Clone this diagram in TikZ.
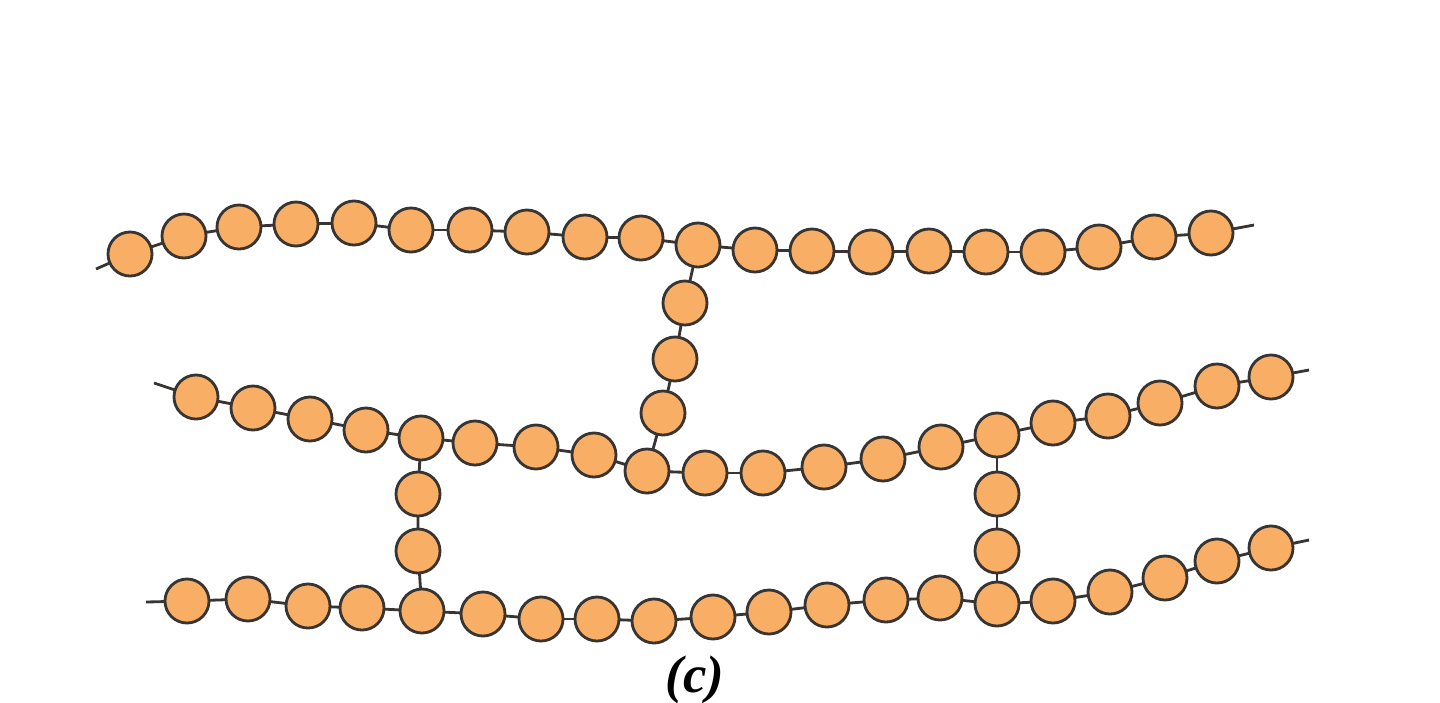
\documentclass[tikz,border=0pt]{standalone}
\usepackage{fontspec}
\setmainfont{Liberation Serif}
\usepackage{tikz}
\usetikzlibrary{backgrounds}
\definecolor{beadorange}{RGB}{248, 174, 100}
\definecolor{beadedge}{RGB}{55, 52, 50}

\begin{document}
\begin{tikzpicture}[
    x=0.01cm, y=-0.01cm,
    bead/.style={circle, draw=beadedge, line width=0.8pt, fill=beadorange,
                 minimum size=0.44cm, inner sep=0pt},
    link/.style={draw=beadedge, line width=0.8pt}
]
    \useasboundingbox (0,0) rectangle (1440,702);

    % top chain
    \foreach \x/\y [count=\i] in {130/254, 184/236, 239/227, 296/224, 354/223,
        411/230, 470/230, 527/232, 585/237, 641/238, 698/245, 755/250, 812/251,
        871/252, 929/251, 986/252, 1043/252, 1099/247, 1154/237, 1211/233}
        \node[bead] (t\i) at (\x,\y) {};

    % middle chain
    \foreach \x/\y [count=\i] in {196/397, 253/408, 310/419, 366/430, 421/438,
        475/443, 536/447, 594/455, 647/471, 705/473, 763/473, 824/467, 883/459,
        941/447, 997/435, 1053/423, 1108/416, 1160/403, 1217/386, 1271/377}
        \node[bead] (m\i) at (\x,\y) {};

    % bottom chain
    \foreach \x/\y [count=\i] in {187/601, 248/599, 308/606, 362/608, 422/611,
        483/614, 541/619, 597/619, 654/621, 713/617, 769/612, 827/605, 886/600,
        940/598, 997/604, 1053/601, 1110/592, 1165/578, 1217/561, 1271/548}
        \node[bead] (b\i) at (\x,\y) {};

    % cross-links
    \node[bead] (u1) at (685,303) {};
    \node[bead] (u2) at (675,359) {};
    \node[bead] (u3) at (663,413) {};
    \node[bead] (v1) at (418,494) {};
    \node[bead] (v2) at (418,551) {};
    \node[bead] (w1) at (997,494) {};
    \node[bead] (w2) at (997,551) {};

    % free chain ends
    \coordinate (tL) at (96,269);
    \coordinate (tR) at (1254,225);
    \coordinate (mL) at (154,383);
    \coordinate (mR) at (1309,370);
    \coordinate (bL) at (146,602);
    \coordinate (bR) at (1309,540);

    \begin{scope}[on background layer]
        \foreach \c in {t, m, b} {
            \foreach \i [remember=\i as \j (initially 1)] in {2,...,20}
                \draw[link] (\c\j.center) -- (\c\i.center);
            \draw[link] (\c L) -- (\c1.center);
            \draw[link] (\c20.center) -- (\c R);
        }
        \draw[link] (t11.center) -- (u1.center) -- (u2.center)
            -- (u3.center) -- (m9.center);
        \draw[link] (m5.center) -- (v1.center) -- (v2.center) -- (b5.center);
        \draw[link] (m15.center) -- (w1.center) -- (w2.center) -- (b15.center);
    \end{scope}

    \node[anchor=base, inner sep=0pt,
          font=\fontsize{15}{18}\selectfont\bfseries\itshape]
        (label) at (695,692) {(c)};
\end{tikzpicture}
\end{document}
